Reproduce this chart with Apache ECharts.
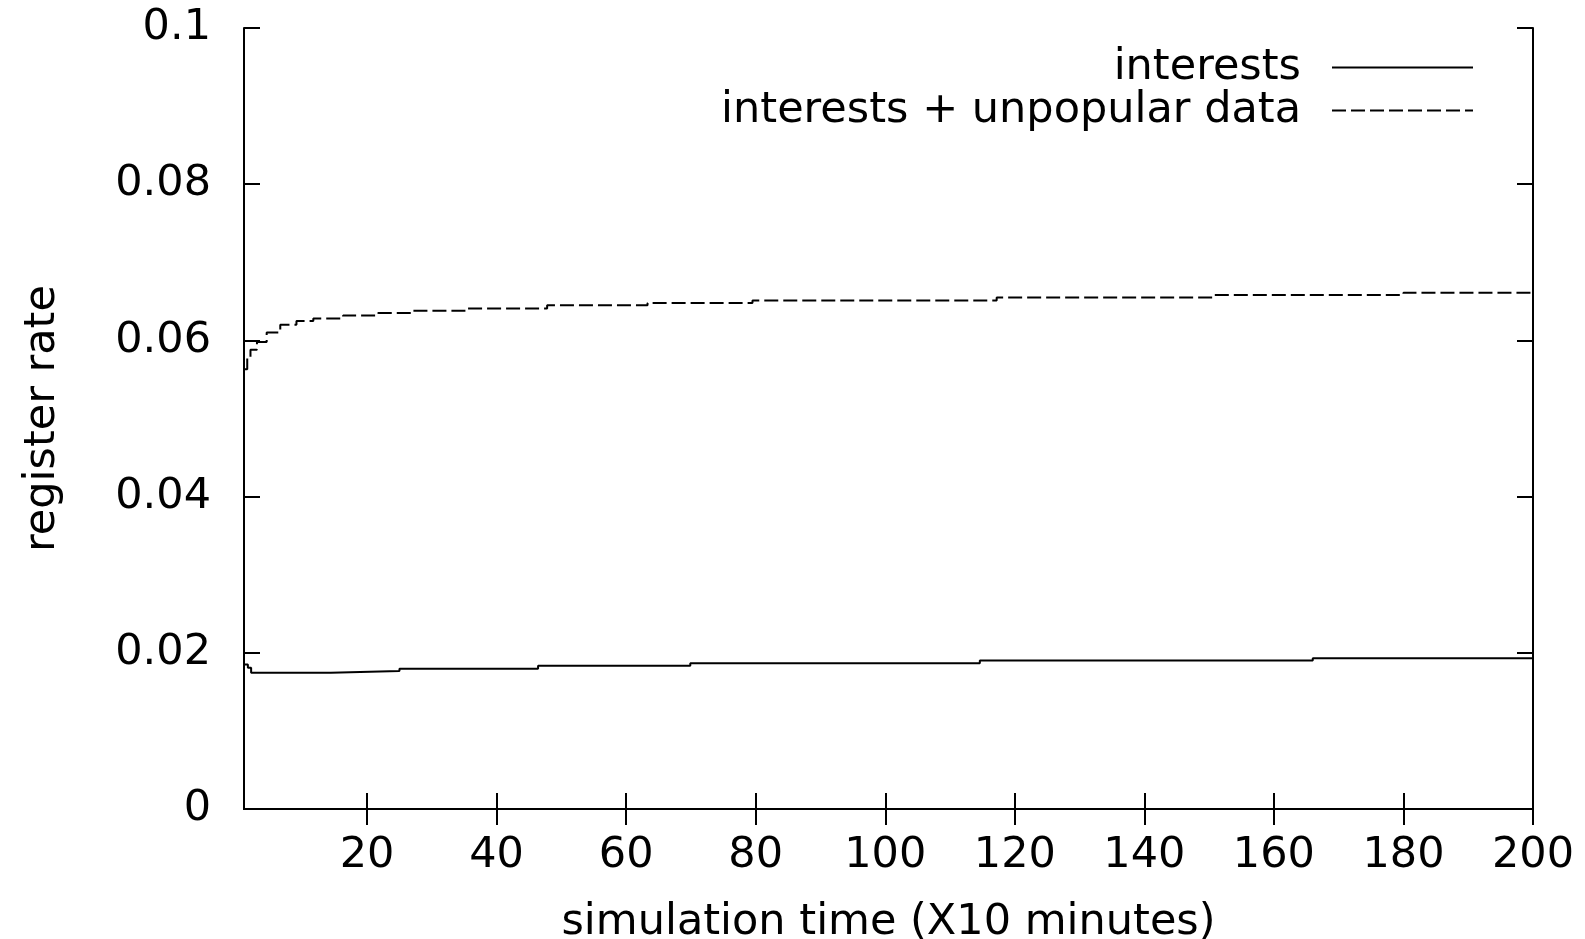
<!DOCTYPE html>
<html>
<head>
<meta charset="utf-8">
<script src="https://cdn.jsdelivr.net/npm/echarts@6/dist/echarts.min.js"></script>
<style>html,body{margin:0;padding:0;background:#fff;}#c{width:1585px;height:939px;}</style>
</head>
<body>
<div id="c"></div>
<script>
const xTicks = [20, 40, 60, 80, 100, 120, 140, 160, 180, 200];
const timesA = [1, 1.6, 2.1, 14.4, 25, 46.4, 69.9, 114.6, 166, 200];
const interests = [0.0185, 0.0181, 0.01745, 0.01767, 0.01797, 0.01835, 0.01865, 0.01903, 0.0193, 0.0193];
const timesB = [1, 1.5, 2, 3, 4.5, 6.6, 9.1, 11.7, 16.3, 21.7, 26.9, 35.4, 47.8, 63.3, 79.5, 117.2, 150.6, 180, 200];
const unpopular = [0.0563, 0.0578, 0.0588, 0.0598, 0.0610, 0.0620, 0.0625, 0.0628, 0.0632, 0.0635, 0.0638, 0.0641, 0.0645, 0.0648, 0.0651, 0.0655, 0.0658, 0.0661, 0.0661];
const seriesNames = ['interests', 'interests + unpopular data'];

const FONT = 'DejaVu Sans';
const FS = 43;
const zip = (xs, ys) => xs.map((x, i) => [x, ys[i]]);

const chart = echarts.init(document.getElementById('c'), null, {renderer: 'canvas'});
const lineAxis = {lineStyle: {color: '#000', width: 2}};
const tick = {inside: true, length: 16, lineStyle: {color: '#000', width: 2}};
chart.setOption({
  animation: false,
  backgroundColor: '#fff',
  textStyle: {fontFamily: FONT, color: '#000'},
  grid: {left: 244, right: 52, top: 28, bottom: 130, containLabel: false, outerBoundsMode: 'none'},
  legend: {
    orient: 'vertical', align: 'right', right: 106, top: 41,
    itemWidth: 141, itemHeight: 14, itemGap: 0,
    data: seriesNames,
    itemStyle: {color: 'rgba(0,0,0,0)', borderWidth: 0, opacity: 0},
    textStyle: {fontFamily: FONT, fontSize: FS, color: '#000', lineHeight: 39, padding: [0, 26, 0, 0]},
    inactiveColor: '#000'
  },
  xAxis: [{
    type: 'value', min: 1, max: 200, position: 'bottom',
    name: 'simulation time (X10 minutes)', nameLocation: 'middle', nameGap: 92,
    nameTextStyle: {fontFamily: FONT, fontSize: FS, color: '#000'},
    axisLine: lineAxis,
    axisTick: Object.assign({customValues: xTicks}, tick),
    axisLabel: {customValues: xTicks, fontFamily: FONT, fontSize: FS, color: '#000', margin: 25},
    splitLine: {show: false}
  }, {
    type: 'value', min: 1, max: 200, position: 'top',
    axisLine: lineAxis,
    axisTick: Object.assign({customValues: xTicks}, tick),
    axisLabel: {show: false},
    splitLine: {show: false}
  }],
  yAxis: [{
    type: 'value', min: 0, max: 0.1, interval: 0.02, position: 'left',
    name: 'register rate', nameLocation: 'middle', nameGap: 180, nameRotate: 90,
    nameTextStyle: {fontFamily: FONT, fontSize: FS, color: '#000'},
    axisLine: {show: true, lineStyle: {color: '#000', width: 2}},
    axisTick: tick,
    axisLabel: {fontFamily: FONT, fontSize: FS, color: '#000', margin: 33},
    splitLine: {show: false}
  }, {
    type: 'value', min: 0, max: 0.1, interval: 0.02, position: 'right',
    axisLine: {show: true, lineStyle: {color: '#000', width: 2}},
    axisTick: tick,
    axisLabel: {show: false},
    splitLine: {show: false}
  }],
  series: [{
    name: seriesNames[0], type: 'line', step: 'end', symbol: 'none',
    xAxisIndex: 0, yAxisIndex: 0,
    lineStyle: {color: '#000', width: 2, type: 'solid'},
    itemStyle: {color: '#000'},
    data: zip(timesA, interests)
  }, {
    name: seriesNames[1], type: 'line', step: 'end', symbol: 'none',
    xAxisIndex: 0, yAxisIndex: 0,
    lineStyle: {color: '#000', width: 2, type: [14, 5]},
    itemStyle: {color: '#000'},
    data: zip(timesB, unpopular)
  }]
});
</script>
</body>
</html>
